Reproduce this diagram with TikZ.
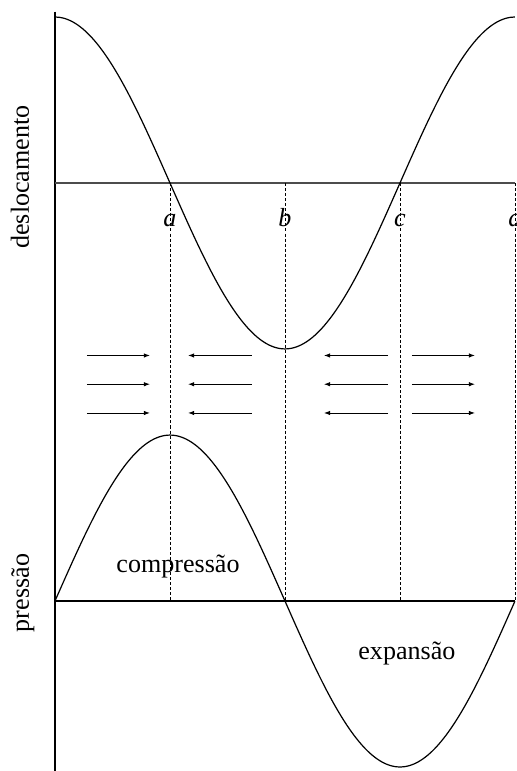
\documentclass[tikz,border=0pt]{standalone}
\usepackage{fontspec}
\setmainfont{Liberation Serif}
\usetikzlibrary{arrows.meta}

\tikzset{
  curve/.style={line width=0.6pt, smooth},
  axis/.style={line width=0.55pt},
  guide/.style={line width=0.4pt, dash pattern=on 1.5pt off 1pt},
  flow/.style={line width=0.45pt, -{Latex[length=3pt, width=2.2pt]}},
  ylab/.style={rotate=90, anchor=base},
}

\begin{document}
\begin{tikzpicture}[x=2cm, y=2cm, font=\fontsize{12.9}{15}\selectfont]
    \useasboundingbox (-0.478,-5.113) rectangle (4.009,1.591);
    % axes
    \coordinate (top)  at (0,1.49);
    \coordinate (foot) at (0,-5.113);
    \coordinate (o1) at (0,0);
    \coordinate (e1) at (4,0);
    \coordinate (o2) at (0,-3.635);
    \coordinate (e2) at (4,-3.635);
    \draw[axis] (top) -- (foot);
    \draw[axis, black!70] (o1) -- (e1);
    \draw[axis] (o2) -- (e2);
    % displacement and pressure
    \draw[curve] plot[domain=0:4, samples=101] (\x, {1.443*cos(90*\x)});
    \draw[curve] plot[domain=0:4, samples=101] (\x, {-3.635+1.443*sin(90*\x)});
    % guides
    \foreach \pos/\lab in {1/a, 2/b, 3/c, 4/d}{%
      \draw[guide] (\pos,0) -- (\pos,-3.635);
      \node[anchor=base, inner sep=0pt] (lbl-\lab) at (\pos,-0.38) {\textit{\lab}};
    }
    % motion of the air
    \foreach \xs/\xe in {0.278/0.826, 1.713/1.157, 2.896/2.339, 3.104/3.652}{%
      \foreach \yy in {-1.5,-1.75,-2.0}{%
        \draw[flow] (\xs,\yy) -- (\xe,\yy);
      }
    }
    % labels
    \node[ylab] (desl) at (-0.226,0.052)  {deslocamento};
    \node[ylab] (pres) at (-0.226,-3.565) {pressão};
    \node[anchor=base] (comp) at (1.07,-3.383) {compressão};
    \node[anchor=base] (expa) at (3.06,-4.142) {expansão};
\end{tikzpicture}
\end{document}
